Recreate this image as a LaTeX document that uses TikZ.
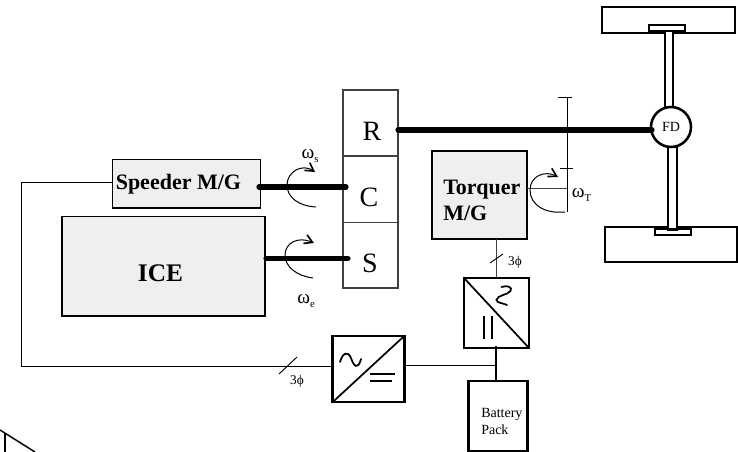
\documentclass[tikz,border=0pt]{standalone}
\usepackage{fontspec}
\setmainfont{Liberation Serif}
\usetikzlibrary{arrows.meta}
\definecolor{boxgray}{HTML}{EFEFEF}
\begin{document}
\begin{tikzpicture}[x=0.75pt,y=-0.75pt,
  sized/.style 2 args={minimum width=#1*0.75pt,minimum height=#2*0.75pt,inner sep=0pt,outer sep=0pt},
  graybox/.style={draw=black,fill=boxgray,line width=1pt},
  planet/.style={draw=black!75,line width=0.9pt},
  planet label/.style={font=\fontsize{21}{23}\selectfont,inner sep=0pt},
  heavy/.style={draw=black,line width=1.9pt},
  shaft/.style={line width=3.9pt,line cap=round},
  thin wire/.style={line width=0.7pt},
  bold label/.style={font=\fontsize{16.5}{19.5}\bfseries\selectfont,inner sep=0pt,align=left},
  small label/.style={font=\fontsize{10.5}{13}\selectfont,inner sep=0pt,align=left},
  omega/.style={font=\fontsize{14.5}{16}\selectfont,inner sep=0pt},
  spin/.style={line width=0.75pt,-{Straight Barb[length=6pt,width=7pt,line width=1.2pt]}}]
\useasboundingbox (0,0) rectangle (738,452);

% corner fragment
\coordinate (fragA) at (0,430);
\coordinate (fragB) at (35,452);
\coordinate (fragC) at (5,433);
\coordinate (fragD) at (5,452);
\draw[line width=1.1pt] (fragA) -- (fragB);
\draw[line width=0.9pt] (fragC) -- (fragD);

% wheels and axles
\node[heavy,fill=white,sized={133}{26}] (wheelT) at (668.5,20) {};
\node[heavy,fill=white,sized={132}{35}] (wheelB) at (671,244.5) {};
\node[heavy,fill=white,sized={36}{6}] (hubT) at (667,28) {};
\node[heavy,fill=white,sized={36}{6}] (hubB) at (673,232) {};
\node[heavy,fill=white,sized={8}{78}] (axleT) at (669,70) {};
\node[heavy,fill=white,sized={9}{83}] (axleB) at (672.5,188) {};

% planetary stack
\node[planet,sized={55}{66}] (R) at (370.5,123) {};
\node[planet,sized={55}{66.5}] (C) at (370.5,189.25) {};
\node[planet,sized={55}{65.5}] (S) at (370.5,255.25) {};
\node[planet label] (Rt) at (372,131) {R};
\node[planet label] (Ct) at (369,197) {C};
\node[planet label] (St) at (370,263) {S};

% machines
\node[graybox,sized={148}{48.5}] (speeder) at (186.5,183.75) {};
\node[bold label,anchor=west] (speederT) at (115.5,184) {Speeder M/G};
\node[graybox,sized={203}{99.5}] (ice) at (163.5,266.25) {};
\node[bold label,font=\fontsize{19}{21}\bfseries\selectfont] (iceT) at (160.5,273) {ICE};
\node[graybox,sized={95}{88}] (torquer) at (479.5,195) {};
\node[bold label,anchor=west] (torquerT) at (443,200) {Torquer\\M/G};

% final drive
\node[heavy,circle,fill=white,minimum size=40*0.75pt,inner sep=0pt,outer sep=0pt,font=\fontsize{10.5}{12}\selectfont] (FD) at (671,127) {FD};

% shafts
\coordinate (spS) at (259,187);
\coordinate (spE) at (346,187);
\coordinate (icS) at (266,258.7);
\coordinate (icE) at (348,258.7);
\coordinate (rS) at (398,130);
\coordinate (rE) at (652,130);
\draw[shaft] (spS) -- (spE);
\draw[shaft] (icS) -- (icE);
\draw[shaft] (rS) -- (rE);

% torque gear
\coordinate (gTop) at (567,98);
\coordinate (gBot) at (567,212);
\coordinate (tL1) at (558,98);  \coordinate (tR1) at (572,98);
\coordinate (tL2) at (560,169); \coordinate (tR2) at (573,169);
\coordinate (gMid) at (567,189);
\coordinate (tqOut) at (527,189);
\draw[line width=0.75pt] (gTop) -- (gBot) (tL1) -- (tR1) (tL2) -- (tR2);
\draw[line width=0.75pt,black!75] (tqOut) -- (gMid);

% rotation arrows
\coordinate (a1s) at (316,207);\coordinate (a1e) at (315,172);
\coordinate (a2s) at (313,278);\coordinate (a2e) at (314,243);
\coordinate (a3s) at (565,212);\coordinate (a3e) at (558,177);
\draw[spin] (a1s) .. controls (298,206) and (287,197) .. (287,185) .. controls (287,172) and (302,163) .. (a1e);
\draw[spin] (a2s) .. controls (297,276) and (285,267) .. (285,255) .. controls (285,243) and (298,236) .. (a2e);
\draw[spin] (a3s) .. controls (545,214) and (530,205) .. (530,190) .. controls (530,176) and (545,170) .. (a3e);

% omega labels
\node[omega] (ws) at (310,156) {ω\raisebox{-2.5pt}{\fontsize{8}{9}\selectfont s}};
\node[omega] (we) at (306,301) {ω\raisebox{-2.5pt}{\fontsize{8}{9}\selectfont e}};
\node[omega,anchor=west] (wt) at (571.5,195) {ω\raisebox{-2.5pt}{\fontsize{8}{9}\selectfont T}};

% converters
\node[heavy,sized={65}{70}] (invT) at (496.5,313) {};
\node[heavy,sized={71.5}{66}] (invL) at (368.5,369) {};
\node[heavy,sized={59}{70}] (batt) at (498.2,416) {};
\node[small label,anchor=west] (battT) at (481,421.5) {Battery\\Pack};
\draw[line width=1.3pt] (invT.north west) -- (invT.south east);
\draw[line width=1.3pt] (invL.south west) -- (invL.north east);

% converter symbols
\coordinate (sqA) at (501.5,287);
\coordinate (sqB) at (507,305);
\draw[line width=1.3pt,line cap=round] (sqA) .. controls (507,285) and (513,287) .. (510.5,291) .. controls (508,295) and (497,295) .. (496.5,300) .. controls (496.5,303) and (503,303) .. (sqB);
\coordinate (d1a) at (484,316);\coordinate (d1b) at (484,339);
\coordinate (d2a) at (492,316);\coordinate (d2b) at (492,339);
\draw[line width=1.3pt] (d1a) -- (d1b) (d2a) -- (d2b);
\coordinate (wvA) at (340,362);
\coordinate (wvB) at (361,359);
\draw[line width=1.3pt,line cap=round] (wvA) .. controls (343,352) and (348,351) .. (351,358) .. controls (354,367) and (358,370) .. (wvB);
\coordinate (e1a) at (370,374);\coordinate (e1b) at (395,374);
\coordinate (e2a) at (370,381);\coordinate (e2b) at (392,381);
\draw[line width=1.3pt] (e1a) -- (e1b) (e2a) -- (e2b);

% wiring
\coordinate (spW) at (112.5,182);
\coordinate (busA) at (21,182);
\coordinate (busB) at (21,366);
\coordinate (busC) at (332.7,366);
\draw[thin wire] (spW) -- (busA) -- (busB) -- (busC);
\coordinate (tqD) at (496,239);
\coordinate (tqE) at (496,278);
\draw[thin wire,black!75] (tqD) -- (tqE);
\coordinate (jT) at (495.5,346);
\coordinate (jB) at (495.5,381);
\coordinate (jM) at (495.5,365);
\coordinate (invLE) at (404,365);
\draw[line width=1.5pt] (jT) -- (jB);
\draw[thin wire] (invLE) -- (jM);

% 3-phase slashes
\coordinate (sl1a) at (490,263);\coordinate (sl1b) at (503,254);
\coordinate (sl2a) at (279,374);\coordinate (sl2b) at (297,357);
\draw[thin wire] (sl1a) -- (sl1b) (sl2a) -- (sl2b);
\node[font=\fontsize{10}{12}\selectfont,inner sep=0pt] (ph1) at (515,262) {3ϕ};
\node[font=\fontsize{10}{12}\selectfont,inner sep=0pt] (ph2) at (297,381) {3ϕ};
\end{tikzpicture}
\end{document}
